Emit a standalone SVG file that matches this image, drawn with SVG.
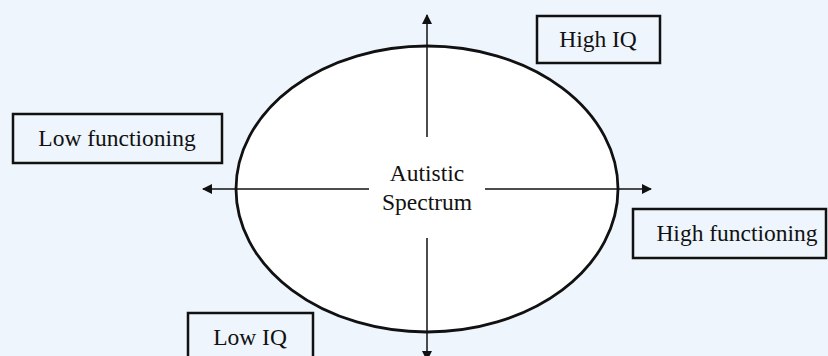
<svg xmlns="http://www.w3.org/2000/svg" width="828" height="356" viewBox="0 0 828 356">
<defs>
<style>
.box{fill:#eef5fc;stroke:#111;stroke-width:2.5}
.lbl{font-family:"Liberation Serif","DejaVu Serif",serif;font-size:23.5px;fill:#111;text-anchor:middle}
.ax{stroke:#111;stroke-width:1.5;fill:none}
</style>
<marker id="ah" viewBox="0 0 10 10" refX="9" refY="5" markerWidth="10" markerHeight="10" markerUnits="userSpaceOnUse" orient="auto">
<path d="M0,0 L10,5 L0,10 Z" fill="#111"/>
</marker>
</defs>
<rect width="828" height="356" fill="#eef5fc"/>
<g id="spectrum">
<ellipse cx="427" cy="189" rx="191" ry="143" fill="#fff" stroke="#111" stroke-width="2.8"/>
<text class="lbl" x="427" y="181">Autistic</text>
<text class="lbl" x="427" y="210">Spectrum</text>
</g>
<g id="connectors">
<line class="ax" x1="427" y1="137" x2="427" y2="15" marker-end="url(#ah)"/>
<line class="ax" x1="427" y1="238" x2="427" y2="360" marker-end="url(#ah)"/>
<line class="ax" x1="369" y1="189" x2="203" y2="189" marker-end="url(#ah)"/>
<line class="ax" x1="485" y1="189" x2="651" y2="189" marker-end="url(#ah)"/>
</g>
<g id="high-iq">
<rect class="box" x="537" y="16" width="123" height="47"/>
<text class="lbl" x="598" y="47">High IQ</text>
</g>
<g id="low-functioning">
<rect class="box" x="13" y="114" width="209" height="49"/>
<text class="lbl" x="117" y="146">Low functioning</text>
</g>
<g id="high-functioning">
<rect class="box" x="633" y="209" width="193" height="49"/>
<text class="lbl" x="737" y="241">High functioning</text>
</g>
<g id="low-iq">
<rect class="box" x="188" y="313" width="125" height="50"/>
<text class="lbl" x="250" y="345">Low IQ</text>
</g>
</svg>
